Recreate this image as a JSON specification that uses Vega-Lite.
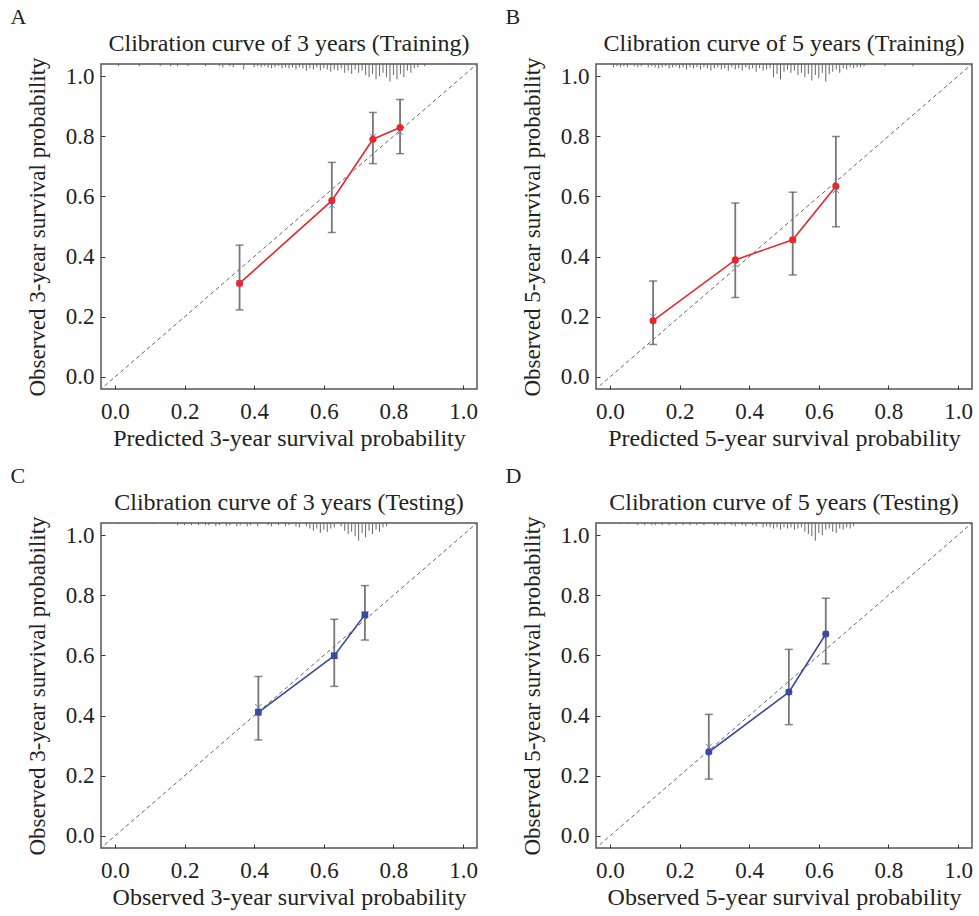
{
  "$schema": "https://vega.github.io/schema/vega-lite/v6.json",
  "padding": {"left": 10, "top": 6, "right": 0, "bottom": 0},
  "config": {
    "font": "Liberation Serif",
    "view": {"stroke": "#555", "strokeWidth": 1.5},
    "axis": {"grid": false, "domain": false, "labelFontSize": 23, "titleFontSize": 23, "titleFontWeight": "normal", "labelColor": "#222", "titleColor": "#222", "tickColor": "#333", "tickSize": -4, "labelPadding": 11, "titlePadding": 16},
    "axisX": {"labelPadding": 15, "titlePadding": 3, "titleFontSize": 24},
    "title": {"fontSize": 24, "fontWeight": "normal", "color": "#222", "offset": 1},
    "tick": {"orient": "horizontal", "size": 8, "thickness": 1.5, "color": "#555"}
  },
  "datasets": {
    "diag": [{"x": -0.06, "y": -0.06}, {"x": 1.06, "y": 1.06}],
    "A_pts": [{"x": 0.358, "y": 0.311, "lo": 0.223, "hi": 0.438, "yc": 0.311}, {"x": 0.623, "y": 0.586, "lo": 0.48, "hi": 0.713, "yc": 0.571}, {"x": 0.741, "y": 0.79, "lo": 0.709, "hi": 0.879, "yc": 0.798}, {"x": 0.819, "y": 0.829, "lo": 0.742, "hi": 0.922, "yc": 0.815}],
    "B_pts": [{"x": 0.124, "y": 0.187, "lo": 0.108, "hi": 0.319, "yc": 0.2}, {"x": 0.36, "y": 0.389, "lo": 0.264, "hi": 0.578, "yc": 0.374}, {"x": 0.525, "y": 0.456, "lo": 0.339, "hi": 0.614, "yc": 0.456}, {"x": 0.649, "y": 0.634, "lo": 0.499, "hi": 0.799, "yc": 0.621}],
    "C_pts": [{"x": 0.412, "y": 0.411, "lo": 0.319, "hi": 0.53, "yc": 0.428}, {"x": 0.63, "y": 0.599, "lo": 0.497, "hi": 0.72, "yc": 0.599}, {"x": 0.718, "y": 0.735, "lo": 0.651, "hi": 0.832, "yc": 0.735}],
    "D_pts": [{"x": 0.284, "y": 0.279, "lo": 0.189, "hi": 0.404, "yc": 0.296}, {"x": 0.514, "y": 0.478, "lo": 0.37, "hi": 0.62, "yc": 0.478}, {"x": 0.62, "y": 0.671, "lo": 0.572, "hi": 0.79, "yc": 0.671}],
    "A_rug": [{"x":0.01,"n":2},{"x":0.07,"n":2},{"x":0.13,"n":2},{"x":0.16,"n":2},{"x":0.18,"n":2},{"x":0.21,"n":2},{"x":0.26,"n":2},{"x":0.30,"n":2},{"x":0.31,"n":3},{"x":0.33,"n":2},{"x":0.34,"n":3},{"x":0.37,"n":5},{"x":0.40,"n":3},{"x":0.41,"n":2},{"x":0.42,"n":3},{"x":0.43,"n":2},{"x":0.44,"n":3},{"x":0.45,"n":4},{"x":0.46,"n":3},{"x":0.47,"n":2},{"x":0.48,"n":4},{"x":0.49,"n":3},{"x":0.50,"n":4},{"x":0.51,"n":3},{"x":0.52,"n":5},{"x":0.53,"n":3},{"x":0.54,"n":4},{"x":0.55,"n":6},{"x":0.56,"n":4},{"x":0.57,"n":5},{"x":0.58,"n":3},{"x":0.59,"n":6},{"x":0.60,"n":4},{"x":0.61,"n":5},{"x":0.62,"n":7},{"x":0.63,"n":5},{"x":0.64,"n":6},{"x":0.65,"n":4},{"x":0.66,"n":8},{"x":0.67,"n":6},{"x":0.68,"n":9},{"x":0.69,"n":5},{"x":0.70,"n":8},{"x":0.71,"n":6},{"x":0.72,"n":10},{"x":0.73,"n":12},{"x":0.74,"n":9},{"x":0.75,"n":14},{"x":0.76,"n":11},{"x":0.77,"n":8},{"x":0.78,"n":12},{"x":0.79,"n":16},{"x":0.80,"n":10},{"x":0.81,"n":14},{"x":0.82,"n":9},{"x":0.83,"n":12},{"x":0.84,"n":6},{"x":0.85,"n":8},{"x":0.86,"n":4},{"x":0.87,"n":3},{"x":0.89,"n":2}],
    "B_rug": [{"x":0.01,"n":3},{"x":0.02,"n":2},{"x":0.03,"n":3},{"x":0.04,"n":2},{"x":0.05,"n":3},{"x":0.07,"n":2},{"x":0.08,"n":3},{"x":0.09,"n":2},{"x":0.11,"n":3},{"x":0.12,"n":2},{"x":0.13,"n":3},{"x":0.14,"n":4},{"x":0.15,"n":3},{"x":0.16,"n":2},{"x":0.17,"n":4},{"x":0.18,"n":3},{"x":0.19,"n":2},{"x":0.20,"n":4},{"x":0.21,"n":3},{"x":0.22,"n":5},{"x":0.23,"n":3},{"x":0.24,"n":4},{"x":0.25,"n":3},{"x":0.26,"n":5},{"x":0.27,"n":3},{"x":0.28,"n":4},{"x":0.29,"n":6},{"x":0.30,"n":4},{"x":0.31,"n":3},{"x":0.32,"n":5},{"x":0.33,"n":4},{"x":0.34,"n":6},{"x":0.35,"n":3},{"x":0.36,"n":5},{"x":0.37,"n":4},{"x":0.38,"n":6},{"x":0.39,"n":3},{"x":0.40,"n":5},{"x":0.41,"n":4},{"x":0.42,"n":7},{"x":0.43,"n":4},{"x":0.44,"n":6},{"x":0.45,"n":5},{"x":0.46,"n":4},{"x":0.47,"n":12},{"x":0.48,"n":9},{"x":0.49,"n":14},{"x":0.50,"n":7},{"x":0.51,"n":5},{"x":0.52,"n":8},{"x":0.53,"n":6},{"x":0.54,"n":10},{"x":0.55,"n":8},{"x":0.56,"n":12},{"x":0.57,"n":9},{"x":0.58,"n":15},{"x":0.59,"n":10},{"x":0.60,"n":13},{"x":0.61,"n":8},{"x":0.62,"n":16},{"x":0.63,"n":9},{"x":0.64,"n":7},{"x":0.65,"n":5},{"x":0.66,"n":8},{"x":0.67,"n":4},{"x":0.68,"n":5},{"x":0.69,"n":3},{"x":0.70,"n":4},{"x":0.71,"n":3},{"x":0.72,"n":3},{"x":0.73,"n":2},{"x":0.79,"n":2},{"x":0.87,"n":2}],
    "C_rug": [{"x":0.01,"n":1},{"x":0.11,"n":1},{"x":0.18,"n":2},{"x":0.20,"n":2},{"x":0.22,"n":2},{"x":0.24,"n":2},{"x":0.26,"n":2},{"x":0.27,"n":2},{"x":0.29,"n":3},{"x":0.30,"n":2},{"x":0.32,"n":3},{"x":0.33,"n":2},{"x":0.35,"n":3},{"x":0.36,"n":2},{"x":0.38,"n":3},{"x":0.39,"n":2},{"x":0.41,"n":3},{"x":0.44,"n":2},{"x":0.45,"n":3},{"x":0.47,"n":2},{"x":0.49,"n":3},{"x":0.50,"n":2},{"x":0.52,"n":3},{"x":0.53,"n":4},{"x":0.55,"n":3},{"x":0.56,"n":5},{"x":0.57,"n":7},{"x":0.58,"n":5},{"x":0.59,"n":9},{"x":0.60,"n":6},{"x":0.61,"n":8},{"x":0.62,"n":5},{"x":0.63,"n":4},{"x":0.65,"n":3},{"x":0.66,"n":7},{"x":0.67,"n":10},{"x":0.68,"n":8},{"x":0.69,"n":12},{"x":0.70,"n":16},{"x":0.71,"n":9},{"x":0.72,"n":13},{"x":0.73,"n":7},{"x":0.74,"n":10},{"x":0.75,"n":6},{"x":0.76,"n":8},{"x":0.77,"n":4},{"x":0.78,"n":3}],
    "D_rug": [{"x":0.03,"n":1},{"x":0.05,"n":1},{"x":0.08,"n":2},{"x":0.10,"n":2},{"x":0.12,"n":2},{"x":0.13,"n":2},{"x":0.15,"n":2},{"x":0.17,"n":2},{"x":0.19,"n":2},{"x":0.21,"n":2},{"x":0.23,"n":2},{"x":0.25,"n":2},{"x":0.27,"n":2},{"x":0.30,"n":2},{"x":0.31,"n":2},{"x":0.33,"n":2},{"x":0.35,"n":2},{"x":0.36,"n":3},{"x":0.38,"n":2},{"x":0.39,"n":3},{"x":0.41,"n":2},{"x":0.42,"n":3},{"x":0.44,"n":4},{"x":0.45,"n":3},{"x":0.46,"n":4},{"x":0.47,"n":5},{"x":0.48,"n":4},{"x":0.49,"n":6},{"x":0.50,"n":4},{"x":0.51,"n":5},{"x":0.52,"n":4},{"x":0.53,"n":6},{"x":0.54,"n":5},{"x":0.55,"n":4},{"x":0.56,"n":8},{"x":0.57,"n":10},{"x":0.58,"n":12},{"x":0.59,"n":16},{"x":0.60,"n":9},{"x":0.61,"n":11},{"x":0.62,"n":6},{"x":0.63,"n":5},{"x":0.64,"n":8},{"x":0.65,"n":9},{"x":0.66,"n":5},{"x":0.67,"n":6},{"x":0.68,"n":4},{"x":0.69,"n":5},{"x":0.70,"n":3}]
  },
  "columns": 2,
  "spacing": {"column": 26, "row": 14},
  "concat": [
    {
      "title": {"text": "A", "anchor": "start", "dx": -15, "offset": 2, "fontSize": 22},
      "vconcat": [{
        "width": 376, "height": 325,
        "title": {"text": "Clibration curve of 3 years (Training)"},
        "encoding": {"x": {"field": "x", "type": "quantitative", "scale": {"domain": [-0.04, 1.04], "nice": false, "zero": false}, "axis": {"title": "Predicted 3-year survival probability", "values": [0, 0.2, 0.4, 0.6, 0.8, 1], "format": ".1f"}}},
        "layer": [
          {"layer": [
            {"data": {"name": "diag"}, "mark": {"type": "line", "strokeDash": [4, 3], "color": "#666", "strokeWidth": 1, "clip": true},
             "encoding": {"y": {"field": "y", "type": "quantitative", "scale": {"domain": [-0.04, 1.04], "nice": false, "zero": false}, "axis": {"title": "Observed 3-year survival probability", "values": [0, 0.2, 0.4, 0.6, 0.8, 1], "format": ".1f"}}}},
            {"data": {"name": "A_pts"}, "mark": {"type": "rule", "color": "#777", "strokeWidth": 1.8},
             "encoding": {"y": {"field": "lo", "type": "quantitative", "scale": {"domain": [-0.04, 1.04], "nice": false, "zero": false}, "axis": {"title": "Observed 3-year survival probability", "values": [0, 0.2, 0.4, 0.6, 0.8, 1], "format": ".1f"}}, "y2": {"field": "hi"}}},
            {"data": {"name": "A_pts"}, "mark": {"type": "tick"},
             "encoding": {"y": {"field": "lo", "type": "quantitative", "scale": {"domain": [-0.04, 1.04], "nice": false, "zero": false}, "axis": {"title": "Observed 3-year survival probability", "values": [0, 0.2, 0.4, 0.6, 0.8, 1], "format": ".1f"}}}},
            {"data": {"name": "A_pts"}, "mark": {"type": "tick"},
             "encoding": {"y": {"field": "hi", "type": "quantitative", "scale": {"domain": [-0.04, 1.04], "nice": false, "zero": false}, "axis": {"title": "Observed 3-year survival probability", "values": [0, 0.2, 0.4, 0.6, 0.8, 1], "format": ".1f"}}}},
            {"data": {"name": "A_pts"}, "mark": {"type": "line", "color": "#e8282b", "strokeWidth": 1.6},
             "encoding": {"y": {"field": "y", "type": "quantitative", "scale": {"domain": [-0.04, 1.04], "nice": false, "zero": false}, "axis": {"title": "Observed 3-year survival probability", "values": [0, 0.2, 0.4, 0.6, 0.8, 1], "format": ".1f"}}}},
            {"data": {"name": "A_pts"}, "mark": {"type": "point", "shape": "M-1,-1L1,1M-1,1L1,-1", "filled": false, "size": 40, "color": "#6b7fc4", "strokeWidth": 1, "opacity": 1},
             "encoding": {"y": {"field": "yc", "type": "quantitative", "scale": {"domain": [-0.04, 1.04], "nice": false, "zero": false}, "axis": {"title": "Observed 3-year survival probability", "values": [0, 0.2, 0.4, 0.6, 0.8, 1], "format": ".1f"}}}},
            {"data": {"name": "A_pts"}, "mark": {"type": "point", "shape": "circle", "filled": true, "size": 50, "color": "#e8282b", "opacity": 1},
             "encoding": {"y": {"field": "y", "type": "quantitative", "scale": {"domain": [-0.04, 1.04], "nice": false, "zero": false}, "axis": {"title": "Observed 3-year survival probability", "values": [0, 0.2, 0.4, 0.6, 0.8, 1], "format": ".1f"}}}}
          ]},
          {"data": {"name": "A_rug"}, "mark": {"type": "rule", "color": "#666", "strokeWidth": 1},
           "encoding": {"y": {"field": "n", "type": "quantitative", "scale": {"domain": [0, 20], "range": [0, 22]}, "axis": null}, "y2": {"datum": 0}}}
        ],
        "resolve": {"scale": {"y": "independent"}, "axis": {"y": "independent"}}
      }]
    },
    {
      "title": {"text": "B", "anchor": "start", "dx": -15, "offset": 2, "fontSize": 22},
      "vconcat": [{
        "width": 376, "height": 325,
        "title": {"text": "Clibration curve of 5 years (Training)"},
        "encoding": {"x": {"field": "x", "type": "quantitative", "scale": {"domain": [-0.04, 1.04], "nice": false, "zero": false}, "axis": {"title": "Predicted 5-year survival probability", "values": [0, 0.2, 0.4, 0.6, 0.8, 1], "format": ".1f"}}},
        "layer": [
          {"layer": [
            {"data": {"name": "diag"}, "mark": {"type": "line", "strokeDash": [4, 3], "color": "#666", "strokeWidth": 1, "clip": true},
             "encoding": {"y": {"field": "y", "type": "quantitative", "scale": {"domain": [-0.04, 1.04], "nice": false, "zero": false}, "axis": {"title": "Observed 5-year survival probability", "values": [0, 0.2, 0.4, 0.6, 0.8, 1], "format": ".1f"}}}},
            {"data": {"name": "B_pts"}, "mark": {"type": "rule", "color": "#777", "strokeWidth": 1.8},
             "encoding": {"y": {"field": "lo", "type": "quantitative", "scale": {"domain": [-0.04, 1.04], "nice": false, "zero": false}, "axis": {"title": "Observed 5-year survival probability", "values": [0, 0.2, 0.4, 0.6, 0.8, 1], "format": ".1f"}}, "y2": {"field": "hi"}}},
            {"data": {"name": "B_pts"}, "mark": {"type": "tick"},
             "encoding": {"y": {"field": "lo", "type": "quantitative", "scale": {"domain": [-0.04, 1.04], "nice": false, "zero": false}, "axis": {"title": "Observed 5-year survival probability", "values": [0, 0.2, 0.4, 0.6, 0.8, 1], "format": ".1f"}}}},
            {"data": {"name": "B_pts"}, "mark": {"type": "tick"},
             "encoding": {"y": {"field": "hi", "type": "quantitative", "scale": {"domain": [-0.04, 1.04], "nice": false, "zero": false}, "axis": {"title": "Observed 5-year survival probability", "values": [0, 0.2, 0.4, 0.6, 0.8, 1], "format": ".1f"}}}},
            {"data": {"name": "B_pts"}, "mark": {"type": "line", "color": "#e8282b", "strokeWidth": 1.6},
             "encoding": {"y": {"field": "y", "type": "quantitative", "scale": {"domain": [-0.04, 1.04], "nice": false, "zero": false}, "axis": {"title": "Observed 5-year survival probability", "values": [0, 0.2, 0.4, 0.6, 0.8, 1], "format": ".1f"}}}},
            {"data": {"name": "B_pts"}, "mark": {"type": "point", "shape": "M-1,-1L1,1M-1,1L1,-1", "filled": false, "size": 40, "color": "#6b7fc4", "strokeWidth": 1, "opacity": 1},
             "encoding": {"y": {"field": "yc", "type": "quantitative", "scale": {"domain": [-0.04, 1.04], "nice": false, "zero": false}, "axis": {"title": "Observed 5-year survival probability", "values": [0, 0.2, 0.4, 0.6, 0.8, 1], "format": ".1f"}}}},
            {"data": {"name": "B_pts"}, "mark": {"type": "point", "shape": "circle", "filled": true, "size": 50, "color": "#e8282b", "opacity": 1},
             "encoding": {"y": {"field": "y", "type": "quantitative", "scale": {"domain": [-0.04, 1.04], "nice": false, "zero": false}, "axis": {"title": "Observed 5-year survival probability", "values": [0, 0.2, 0.4, 0.6, 0.8, 1], "format": ".1f"}}}}
          ]},
          {"data": {"name": "B_rug"}, "mark": {"type": "rule", "color": "#666", "strokeWidth": 1},
           "encoding": {"y": {"field": "n", "type": "quantitative", "scale": {"domain": [0, 20], "range": [0, 22]}, "axis": null}, "y2": {"datum": 0}}}
        ],
        "resolve": {"scale": {"y": "independent"}, "axis": {"y": "independent"}}
      }]
    },
    {
      "title": {"text": "C", "anchor": "start", "dx": -15, "offset": 2, "fontSize": 22},
      "vconcat": [{
        "width": 376, "height": 325,
        "title": {"text": "Clibration curve of 3 years (Testing)"},
        "encoding": {"x": {"field": "x", "type": "quantitative", "scale": {"domain": [-0.04, 1.04], "nice": false, "zero": false}, "axis": {"title": "Observed 3-year survival probability", "values": [0, 0.2, 0.4, 0.6, 0.8, 1], "format": ".1f"}}},
        "layer": [
          {"layer": [
            {"data": {"name": "diag"}, "mark": {"type": "line", "strokeDash": [4, 3], "color": "#666", "strokeWidth": 1, "clip": true},
             "encoding": {"y": {"field": "y", "type": "quantitative", "scale": {"domain": [-0.04, 1.04], "nice": false, "zero": false}, "axis": {"title": "Observed 3-year survival probability", "values": [0, 0.2, 0.4, 0.6, 0.8, 1], "format": ".1f"}}}},
            {"data": {"name": "C_pts"}, "mark": {"type": "rule", "color": "#777", "strokeWidth": 1.8},
             "encoding": {"y": {"field": "lo", "type": "quantitative", "scale": {"domain": [-0.04, 1.04], "nice": false, "zero": false}, "axis": {"title": "Observed 3-year survival probability", "values": [0, 0.2, 0.4, 0.6, 0.8, 1], "format": ".1f"}}, "y2": {"field": "hi"}}},
            {"data": {"name": "C_pts"}, "mark": {"type": "tick"},
             "encoding": {"y": {"field": "lo", "type": "quantitative", "scale": {"domain": [-0.04, 1.04], "nice": false, "zero": false}, "axis": {"title": "Observed 3-year survival probability", "values": [0, 0.2, 0.4, 0.6, 0.8, 1], "format": ".1f"}}}},
            {"data": {"name": "C_pts"}, "mark": {"type": "tick"},
             "encoding": {"y": {"field": "hi", "type": "quantitative", "scale": {"domain": [-0.04, 1.04], "nice": false, "zero": false}, "axis": {"title": "Observed 3-year survival probability", "values": [0, 0.2, 0.4, 0.6, 0.8, 1], "format": ".1f"}}}},
            {"data": {"name": "C_pts"}, "mark": {"type": "line", "color": "#3a4aa0", "strokeWidth": 1.6},
             "encoding": {"y": {"field": "y", "type": "quantitative", "scale": {"domain": [-0.04, 1.04], "nice": false, "zero": false}, "axis": {"title": "Observed 3-year survival probability", "values": [0, 0.2, 0.4, 0.6, 0.8, 1], "format": ".1f"}}}},
            {"data": {"name": "C_pts"}, "mark": {"type": "point", "shape": "M-1,-1L1,1M-1,1L1,-1", "filled": false, "size": 40, "color": "#6b7fc4", "strokeWidth": 1, "opacity": 1},
             "encoding": {"y": {"field": "yc", "type": "quantitative", "scale": {"domain": [-0.04, 1.04], "nice": false, "zero": false}, "axis": {"title": "Observed 3-year survival probability", "values": [0, 0.2, 0.4, 0.6, 0.8, 1], "format": ".1f"}}}},
            {"data": {"name": "C_pts"}, "mark": {"type": "point", "shape": "square", "filled": true, "size": 45, "color": "#3a4aa0", "opacity": 1},
             "encoding": {"y": {"field": "y", "type": "quantitative", "scale": {"domain": [-0.04, 1.04], "nice": false, "zero": false}, "axis": {"title": "Observed 3-year survival probability", "values": [0, 0.2, 0.4, 0.6, 0.8, 1], "format": ".1f"}}}}
          ]},
          {"data": {"name": "C_rug"}, "mark": {"type": "rule", "color": "#666", "strokeWidth": 1},
           "encoding": {"y": {"field": "n", "type": "quantitative", "scale": {"domain": [0, 20], "range": [0, 22]}, "axis": null}, "y2": {"datum": 0}}}
        ],
        "resolve": {"scale": {"y": "independent"}, "axis": {"y": "independent"}}
      }]
    },
    {
      "title": {"text": "D", "anchor": "start", "dx": -15, "offset": 2, "fontSize": 22},
      "vconcat": [{
        "width": 376, "height": 325,
        "title": {"text": "Clibration curve of 5 years (Testing)"},
        "encoding": {"x": {"field": "x", "type": "quantitative", "scale": {"domain": [-0.04, 1.04], "nice": false, "zero": false}, "axis": {"title": "Observed 5-year survival probability", "values": [0, 0.2, 0.4, 0.6, 0.8, 1], "format": ".1f"}}},
        "layer": [
          {"layer": [
            {"data": {"name": "diag"}, "mark": {"type": "line", "strokeDash": [4, 3], "color": "#666", "strokeWidth": 1, "clip": true},
             "encoding": {"y": {"field": "y", "type": "quantitative", "scale": {"domain": [-0.04, 1.04], "nice": false, "zero": false}, "axis": {"title": "Observed 5-year survival probability", "values": [0, 0.2, 0.4, 0.6, 0.8, 1], "format": ".1f"}}}},
            {"data": {"name": "D_pts"}, "mark": {"type": "rule", "color": "#777", "strokeWidth": 1.8},
             "encoding": {"y": {"field": "lo", "type": "quantitative", "scale": {"domain": [-0.04, 1.04], "nice": false, "zero": false}, "axis": {"title": "Observed 5-year survival probability", "values": [0, 0.2, 0.4, 0.6, 0.8, 1], "format": ".1f"}}, "y2": {"field": "hi"}}},
            {"data": {"name": "D_pts"}, "mark": {"type": "tick"},
             "encoding": {"y": {"field": "lo", "type": "quantitative", "scale": {"domain": [-0.04, 1.04], "nice": false, "zero": false}, "axis": {"title": "Observed 5-year survival probability", "values": [0, 0.2, 0.4, 0.6, 0.8, 1], "format": ".1f"}}}},
            {"data": {"name": "D_pts"}, "mark": {"type": "tick"},
             "encoding": {"y": {"field": "hi", "type": "quantitative", "scale": {"domain": [-0.04, 1.04], "nice": false, "zero": false}, "axis": {"title": "Observed 5-year survival probability", "values": [0, 0.2, 0.4, 0.6, 0.8, 1], "format": ".1f"}}}},
            {"data": {"name": "D_pts"}, "mark": {"type": "line", "color": "#3a4aa0", "strokeWidth": 1.6},
             "encoding": {"y": {"field": "y", "type": "quantitative", "scale": {"domain": [-0.04, 1.04], "nice": false, "zero": false}, "axis": {"title": "Observed 5-year survival probability", "values": [0, 0.2, 0.4, 0.6, 0.8, 1], "format": ".1f"}}}},
            {"data": {"name": "D_pts"}, "mark": {"type": "point", "shape": "M-1,-1L1,1M-1,1L1,-1", "filled": false, "size": 40, "color": "#6b7fc4", "strokeWidth": 1, "opacity": 1},
             "encoding": {"y": {"field": "yc", "type": "quantitative", "scale": {"domain": [-0.04, 1.04], "nice": false, "zero": false}, "axis": {"title": "Observed 5-year survival probability", "values": [0, 0.2, 0.4, 0.6, 0.8, 1], "format": ".1f"}}}},
            {"data": {"name": "D_pts"}, "mark": {"type": "point", "shape": "circle", "filled": true, "size": 50, "color": "#3a4aa0", "opacity": 1},
             "encoding": {"y": {"field": "y", "type": "quantitative", "scale": {"domain": [-0.04, 1.04], "nice": false, "zero": false}, "axis": {"title": "Observed 5-year survival probability", "values": [0, 0.2, 0.4, 0.6, 0.8, 1], "format": ".1f"}}}}
          ]},
          {"data": {"name": "D_rug"}, "mark": {"type": "rule", "color": "#666", "strokeWidth": 1},
           "encoding": {"y": {"field": "n", "type": "quantitative", "scale": {"domain": [0, 20], "range": [0, 22]}, "axis": null}, "y2": {"datum": 0}}}
        ],
        "resolve": {"scale": {"y": "independent"}, "axis": {"y": "independent"}}
      }]
    }
  ]
}
